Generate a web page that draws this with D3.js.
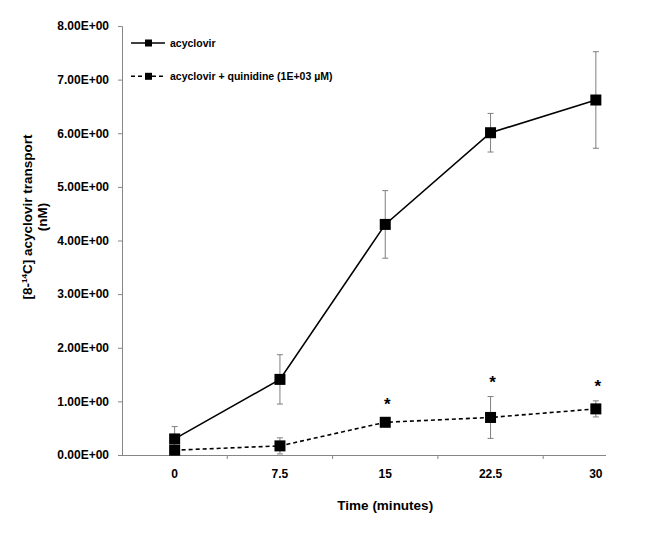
<!DOCTYPE html>
<html>
<head>
<meta charset="utf-8">
<script src="https://cdn.jsdelivr.net/npm/d3@7"></script>
<style>
  html, body { margin: 0; padding: 0; background: #fff; }
  svg { display: block; font-family: "Liberation Sans", Arial, sans-serif; font-weight: bold; }
  .axis path, .axis line { stroke: #868686; }
  .axis text { fill: #000; font-size: 12px; font-family: "Liberation Sans", Arial, sans-serif; font-weight: bold; }
</style>
</head>
<body>
<script>
// time points (category axis)
const times = ['0', '7.5', '15', '22.5', '30'];

// [8-14C] acyclovir transport, nM
const acyclovir = [0.30, 1.41, 4.30, 6.01, 6.62];
const acyclovirErr = [0.23, 0.46, 0.63, 0.36, 0.90];

const quinidine = [0.09, 0.17, 0.61, 0.70, 0.86];
const quinidineErr = [0.03, 0.15, 0.06, 0.39, 0.15];

// asterisks over the quinidine points
const significant = [false, false, true, true, true];

const yTicks = [0, 1, 2, 3, 4, 5, 6, 7, 8];

const seriesNames = ['acyclovir', 'acyclovir + quinidine (1E+03 \u00b5M)'];

function sci(v) {
    const e = v === 0 ? 0 : Math.floor(Math.log10(Math.abs(v)));
    const m = v / Math.pow(10, e);
    return m.toFixed(2) + 'E' + (e < 0 ? '-' : '+') + String(Math.abs(e)).padStart(2, '0');
}

function drawChart() {
    const width = 656;
    const height = 552;
    const margin = { left: 122, top: 26 };
    const plotH = 429;
    const axisLen = 484;
    const step = 105.3;

    const x = d3.scaleBand()
        .domain(times)
        .range([0, step * times.length]);

    const y = d3.scaleLinear()
        .domain([0, 8])
        .range([plotH, 0]);

    const cx = t => x(t) + x.bandwidth() / 2;

    const svg = d3.select('body')
        .append('svg')
        .attr('width', width)
        .attr('height', height);

    const g = svg.append('g')
        .attr('transform', `translate(${margin.left}, ${margin.top})`);

    // y axis
    g.append('g').attr('class', 'axis y')
        .call(d3.axisLeft(y).tickValues(yTicks).tickSize(4).tickPadding(9).tickFormat(sci))
        .call(a => a.select('.domain').attr('d', `M-4,0.5H0.5V${plotH}`));

    // x axis: labels at category centres, ticks between categories
    const xAxis = g.append('g').attr('class', 'axis x')
        .attr('transform', `translate(0, ${plotH})`)
        .call(d3.axisBottom(x).tickSize(0).tickPadding(14.5));
    xAxis.select('.domain').remove();
    xAxis.append('line')
        .attr('x1', 0).attr('x2', axisLen)
        .attr('y1', 0.5).attr('y2', 0.5);
    xAxis.selectAll('line.sep')
        .data(times.slice(1))
        .enter()
        .append('line')
        .attr('class', 'sep')
        .attr('x1', d => x(d)).attr('x2', d => x(d))
        .attr('y1', 0).attr('y2', 4);

    const series = [
        { vals: acyclovir, err: acyclovirErr, dash: null },
        { vals: quinidine, err: quinidineErr, dash: '4,3' }
    ];

    // error bars
    series.forEach(s => {
        const eb = g.append('g').attr('stroke', '#7f7f7f').attr('stroke-width', 1);
        times.forEach((t, i) => {
            const top = y(s.vals[i] + s.err[i]);
            const bot = y(Math.max(0, s.vals[i] - s.err[i]));
            eb.append('line').attr('x1', cx(t)).attr('x2', cx(t)).attr('y1', top).attr('y2', bot);
            eb.append('line').attr('x1', cx(t) - 3).attr('x2', cx(t) + 3).attr('y1', top).attr('y2', top);
            eb.append('line').attr('x1', cx(t) - 3).attr('x2', cx(t) + 3).attr('y1', bot).attr('y2', bot);
        });
    });

    const line = d3.line()
        .x((d, i) => cx(times[i]))
        .y(d => y(d));

    series.forEach(s => {
        g.append('path')
            .attr('d', line(s.vals))
            .attr('fill', 'none')
            .attr('stroke', '#000')
            .attr('stroke-width', 1.6)
            .attr('stroke-dasharray', s.dash);

        g.selectAll(null)
            .data(s.vals)
            .enter()
            .append('rect')
            .attr('x', (d, i) => cx(times[i]) - 5.5)
            .attr('y', d => y(d) - 5.5)
            .attr('width', 11)
            .attr('height', 11)
            .attr('fill', '#000');
    });

    // asterisks
    g.selectAll('text.star')
        .data(times.filter((t, i) => significant[i]))
        .enter()
        .append('text')
        .attr('class', 'star')
        .attr('x', d => cx(d) + 2)
        .attr('y', d => {
            const i = times.indexOf(d);
            return y(quinidine[i] + quinidineErr[i]) - 9;
        })
        .attr('text-anchor', 'middle')
        .attr('font-size', 17)
        .text('*');

    // legend
    const legend = g.append('g').attr('transform', 'translate(9, 17)');
    seriesNames.forEach((name, i) => {
        const row = legend.append('g').attr('transform', `translate(0, ${i * 33.3})`);
        row.append('line')
            .attr('x1', 0).attr('x2', 34)
            .attr('stroke', '#000')
            .attr('stroke-width', 1.6)
            .attr('stroke-dasharray', series[i].dash);
        row.append('rect')
            .attr('x', 14).attr('y', -3.5)
            .attr('width', 7).attr('height', 7)
            .attr('fill', '#000');
        row.append('text')
            .attr('x', 39).attr('y', 4)
            .attr('font-size', 10.5)
            .text(name);
    });

    // axis titles
    svg.append('text')
        .attr('x', margin.left + x.range()[1] / 2)
        .attr('y', 510)
        .attr('text-anchor', 'middle')
        .attr('font-size', 13.5)
        .text('Time (minutes)');

    const yTitle = svg.append('text')
        .attr('transform', 'translate(32, 217) rotate(-90)')
        .attr('text-anchor', 'middle')
        .attr('font-size', 13.5);
    yTitle.append('tspan').text('[8-');
    yTitle.append('tspan').attr('font-size', 8).attr('dy', -5).text('14');
    yTitle.append('tspan').attr('dy', 5).text('C] acyclovir transport');
    svg.append('text')
        .attr('transform', 'translate(47, 217) rotate(-90)')
        .attr('text-anchor', 'middle')
        .attr('font-size', 13.5)
        .text('(nM)');
}

drawChart();
</script>
</body>
</html>
